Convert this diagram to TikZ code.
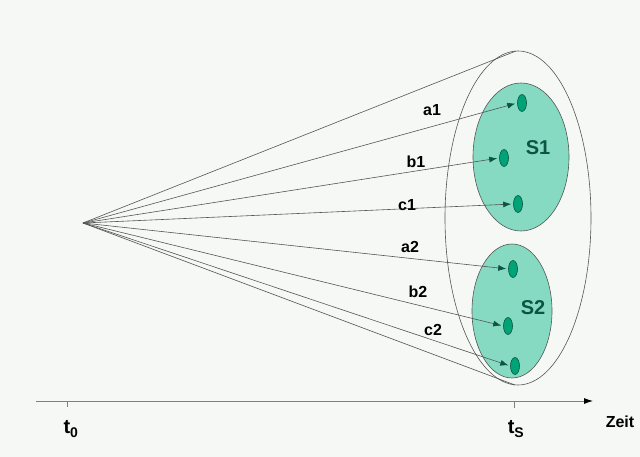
\documentclass[tikz,border=0pt]{standalone}
\usepackage{fontspec}
\setmainfont{Liberation Sans}
\usetikzlibrary{arrows.meta,shapes.geometric}
\definecolor{bgc}{HTML}{F5F8F5}
\definecolor{sfill}{HTML}{86DAC2}
\definecolor{dotfill}{HTML}{00A376}
\definecolor{dkgreen}{HTML}{0C5443}
\definecolor{linec}{HTML}{555555}
\tikzset{
  elem/.style={draw=dkgreen, line width=0.6pt, fill=dotfill, shape=ellipse, minimum width=9pt, minimum height=17pt, inner sep=0pt},
  lbl/.style={font=\bfseries\fontsize{16}{18}\selectfont, text=black},
  slbl/.style={font=\bfseries\fontsize{20}{22}\selectfont, text=dkgreen},
  tlbl/.style={font=\bfseries\fontsize{20}{22}\selectfont, text=black},
  ray/.style={draw=linec, line width=0.6pt},
  arr/.style={ray, -{Latex[length=8pt,width=6pt,color=dkgreen]}, shorten >=2pt},
}
\begin{document}
\begin{tikzpicture}[x=1pt,y=-1pt]
\useasboundingbox (0,0) rectangle (640,457);
\fill[bgc] (0,0) rectangle (640,457);
% outer ellipse
\draw[linec, line width=0.6pt] (518,218) ellipse [x radius=73, y radius=167];
\coordinate (top) at (516,51);
\coordinate (bot) at (515,385);
% sets
\fill[sfill, draw=linec, line width=0.6pt] (521,157) ellipse [x radius=48, y radius=74];
\fill[sfill, draw=linec, line width=0.6pt] (512,311) ellipse [x radius=40, y radius=67];
\node[slbl] (S1) at (538,148) {S1};
\node[slbl] (S2) at (533,308) {S2};
% elements
\node[elem] (ea1) at (522,103) {};
\node[elem] (eb1) at (504,158) {};
\node[elem] (ec1) at (518,204) {};
\node[elem] (ea2) at (513,269) {};
\node[elem] (eb2) at (508,326) {};
\node[elem] (ec2) at (515,366) {};
% origin
\coordinate (O) at (83,223);
\draw[ray] (O) -- (top);
\draw[ray] (O) -- (bot);
\foreach \e in {ea1,eb1,ec1,ea2,eb2,ec2}{
  \draw[arr] (O) -- (\e.west);
}
% labels
\node[lbl] (la1) at (432,110) {a1};
\node[lbl] (lb1) at (416,162) {b1};
\node[lbl] (lc1) at (407,205) {c1};
\node[lbl] (la2) at (410,247) {a2};
\node[lbl] (lb2) at (418,292) {b2};
\node[lbl] (lc2) at (433,330) {c2};
% axis
\coordinate (ax0) at (36,401);
\coordinate (ax1) at (593,401);
\draw[draw=gray, line width=0.8pt, -{Latex[length=9pt,width=6pt,color=black]}] (ax0) -- (ax1);
\draw[gray, line width=0.6pt] (67,401) -- (67,407);
\draw[gray, line width=0.6pt] (514,401) -- (514,408);
\node[tlbl] (t0) at (71,429) {t\textsubscript{0}};
\node[tlbl] (ts) at (516,429) {t\textsubscript{S}};
\node[font=\bfseries\fontsize{16}{18}\selectfont] (zeit) at (620,422) {Zeit};
\end{tikzpicture}
\end{document}
